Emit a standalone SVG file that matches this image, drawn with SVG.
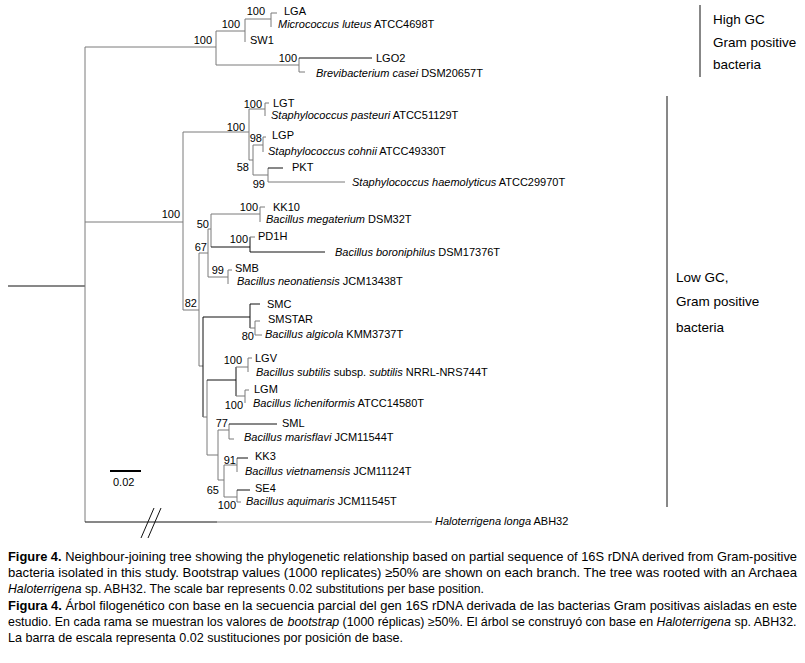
<svg xmlns="http://www.w3.org/2000/svg" width="805" height="663" viewBox="0 0 805 663">
<style>
.g{stroke:#7a7a7a;stroke-width:1;fill:none}
.k{stroke:#111;stroke-width:1;fill:none}
text{font-family:"Liberation Sans",Arial,sans-serif;fill:#000}
.l{font-size:11px}
.i{font-style:italic}
.b{font-size:11px;text-anchor:end}
.r{font-size:13.5px}
.c{font-size:13px}
.c5{font-size:12.4px}
.bold{font-weight:bold}
</style>
<rect width="805" height="663" fill="#fff"/>
<g id="connectors">
<path class="k" d="M8,286H85"/>
<path class="g" d="M85,47V522"/>
<path class="g" d="M85,47H216M216,31V65M216,31H245M245,19V42M245,19H271M271,13V27M271,13H277"/>
<path class="g" d="M216,65H299M299,58V72M299,72H305"/>
<path class="k" d="M299,58H372"/>
<path class="g" d="M85,222H183M183,132V310M183,132H249M249,109V160M249,109H265M265,103V116M265,103H269M249,160H253M253,145V175M253,145H263M263,137V152M263,137H266M253,175H268M268,168V182"/>
<path class="k" d="M268,168H283"/>
<path class="g" d="M268,182H345"/>
<path class="g" d="M183,310H199M199,253V366M199,253H208M208,229V277M208,229H211M211,214V247M211,214H260M260,207V222M260,207H265"/>
<path class="k" d="M211,247H250M250,237V252M250,252H325"/>
<path class="g" d="M250,237H255M208,277H228M228,270V284M228,270H232"/>
<path class="g" d="M199,366H203"/>
<path class="k" d="M203,317V417M203,317H250M250,304V328M250,304H260"/>
<path class="g" d="M250,328H255M255,321V335M255,321H260M255,335H262"/>
<path class="g" d="M203,417H207M207,380V455"/>
<path class="k" d="M207,380H236M236,367V396"/>
<path class="g" d="M236,367H248M248,358V372M248,358H252M236,396H245M245,390V403M245,390H249"/>
<path class="g" d="M207,455H218M218,430V480M218,430H229M229,424V439M229,439H234"/>
<path class="k" d="M229,424H277"/>
<path class="g" d="M218,480H224M224,465V497M224,465H237M237,458V472M224,497H237M237,490V502M237,502H241"/>
<path class="k" d="M237,458H248M237,490H250"/>
<path class="k" d="M85,522H217"/>
<path class="g" d="M217,522H432"/>
<path class="k" d="M141,538L154,508M148,538L161,508"/>
<path class="k" d="M700,5V77M667,96V507"/>
<path d="M110,471H141" stroke="#000" stroke-width="2"/>
</g>
<g id="bootstrap">
<text class="b" x="212" y="44">100</text>
<text class="b" x="240" y="28">100</text>
<text class="b" x="265" y="15">100</text>
<text class="b" x="297" y="62">100</text>
<text class="b" x="180" y="218">100</text>
<text class="b" x="245" y="131">100</text>
<text class="b" x="262" y="108">100</text>
<text class="b" x="262" y="142">98</text>
<text class="b" x="249" y="171">58</text>
<text class="b" x="265" y="188">99</text>
<text class="b" x="258" y="211">100</text>
<text class="b" x="209" y="228">50</text>
<text class="b" x="207" y="251">67</text>
<text class="b" x="248" y="243">100</text>
<text class="b" x="224" y="274">99</text>
<text class="b" x="197" y="307">82</text>
<text class="b" x="254" y="340">80</text>
<text class="b" x="242" y="364">100</text>
<text class="b" x="243" y="409">100</text>
<text class="b" x="228" y="427">77</text>
<text class="b" x="236" y="464">91</text>
<text class="b" x="219" y="494">65</text>
<text class="b" x="236" y="509">100</text>
</g>
<g id="leaf-LGA"><text class="l" x="284" y="15">LGA</text></g>
<g id="leaf-Mluteus"><text class="l" x="278" y="28"><tspan class="i">Micrococcus luteus</tspan> ATCC4698T</text></g>
<g id="leaf-SW1"><text class="l" x="250" y="44">SW1</text></g>
<g id="leaf-LGO2"><text class="l" x="376" y="62">LGO2</text></g>
<g id="leaf-Bcasei"><text class="l" x="316" y="77"><tspan class="i">Brevibacterium casei</tspan> DSM20657T</text></g>
<g id="leaf-LGT"><text class="l" x="273" y="107">LGT</text></g>
<g id="leaf-Spasteuri"><text class="l" x="271" y="119"><tspan class="i">Staphylococcus pasteuri</tspan> ATCC51129T</text></g>
<g id="leaf-LGP"><text class="l" x="272" y="139">LGP</text></g>
<g id="leaf-Scohnii"><text class="l" x="268" y="155"><tspan class="i">Staphylococcus cohnii</tspan> ATCC49330T</text></g>
<g id="leaf-PKT"><text class="l" x="292" y="171">PKT</text></g>
<g id="leaf-Shaemolyticus"><text class="l" x="352" y="186"><tspan class="i">Staphylococcus haemolyticus</tspan> ATCC29970T</text></g>
<g id="leaf-KK10"><text class="l" x="273" y="211">KK10</text></g>
<g id="leaf-Bmegaterium"><text class="l" x="266" y="223"><tspan class="i">Bacillus megaterium</tspan> DSM32T</text></g>
<g id="leaf-PD1H"><text class="l" x="258" y="240">PD1H</text></g>
<g id="leaf-Bboroniphilus"><text class="l" x="335" y="256"><tspan class="i">Bacillus boroniphilus</tspan> DSM17376T</text></g>
<g id="leaf-SMB"><text class="l" x="235" y="272">SMB</text></g>
<g id="leaf-Bneonatiensis"><text class="l" x="237" y="285"><tspan class="i">Bacillus neonatiensis</tspan> JCM13438T</text></g>
<g id="leaf-SMC"><text class="l" x="267" y="308">SMC</text></g>
<g id="leaf-SMSTAR"><text class="l" x="268" y="323">SMSTAR</text></g>
<g id="leaf-Balgicola"><text class="l" x="265" y="338"><tspan class="i">Bacillus algicola</tspan> KMM3737T</text></g>
<g id="leaf-LGV"><text class="l" x="255" y="362">LGV</text></g>
<g id="leaf-Bsubtilis"><text class="l" x="256" y="376"><tspan class="i">Bacillus subtilis</tspan> subsp. <tspan class="i">subtilis</tspan> NRRL-NRS744T</text></g>
<g id="leaf-LGM"><text class="l" x="254" y="393">LGM</text></g>
<g id="leaf-Blicheniformis"><text class="l" x="253" y="407"><tspan class="i">Bacillus licheniformis</tspan> ATCC14580T</text></g>
<g id="leaf-SML"><text class="l" x="282" y="427">SML</text></g>
<g id="leaf-Bmarisflavi"><text class="l" x="244" y="441"><tspan class="i">Bacillus marisflavi</tspan> JCM11544T</text></g>
<g id="leaf-KK3"><text class="l" x="255" y="460">KK3</text></g>
<g id="leaf-Bvietnamensis"><text class="l" x="245" y="475"><tspan class="i">Bacillus vietnamensis</tspan> JCM11124T</text></g>
<g id="leaf-SE4"><text class="l" x="255" y="492">SE4</text></g>
<g id="leaf-Baquimaris"><text class="l" x="246" y="505"><tspan class="i">Bacillus aquimaris</tspan> JCM11545T</text></g>
<g id="leaf-Hlonga"><text class="l" x="435" y="525"><tspan class="i">Haloterrigena longa</tspan> ABH32</text></g>
<g id="scale"><text class="l" x="113" y="486">0.02</text></g>
<g id="group-highGC">
<text class="r" x="713" y="24">High GC</text>
<text class="r" x="713" y="47">Gram positive</text>
<text class="r" x="713" y="69">bacteria</text>
</g>
<g id="group-lowGC">
<text class="r" x="676" y="282">Low GC,</text>
<text class="r" x="676" y="306">Gram positive</text>
<text class="r" x="676" y="332">bacteria</text>
</g>
<g id="caption">
<text class="c" x="8" y="561" textLength="789" lengthAdjust="spacingAndGlyphs"><tspan class="bold">Figure 4.</tspan> Neighbour-joining tree showing the phylogenetic relationship based on partial sequence of 16S rDNA derived from Gram-positive</text>
<text class="c" x="8" y="577" textLength="789" lengthAdjust="spacingAndGlyphs">bacteria isolated in this study. Bootstrap values (1000 replicates) ≥50% are shown on each branch. The tree was rooted with an Archaea</text>
<text class="c" x="8" y="593" textLength="476" lengthAdjust="spacingAndGlyphs"><tspan class="i">Haloterrigena</tspan> sp. ABH32. The scale bar represents 0.02 substitutions per base position.</text>
<text class="c" x="8" y="610" textLength="789" lengthAdjust="spacingAndGlyphs"><tspan class="bold">Figura 4.</tspan> Árbol filogenético con base en la secuencia parcial del gen 16S rDNA derivada de las bacterias Gram positivas aisladas en este</text>
<text class="c5" x="8" y="626">estudio. En cada rama se muestran los valores de</text>
<text class="c5 i" x="287.5" y="626">bootstrap</text>
<text class="c5" x="342.5" y="626">(1000 réplicas) ≥50%. El árbol se construyó con base en</text>
<text class="c5 i" x="656.5" y="626">Haloterrigena</text>
<text class="c5" x="734.5" y="626">sp. ABH32.</text>
<text class="c" x="8" y="642" textLength="395" lengthAdjust="spacingAndGlyphs">La barra de escala representa 0.02 sustituciones por posición de base.</text>
</g>
</svg>
